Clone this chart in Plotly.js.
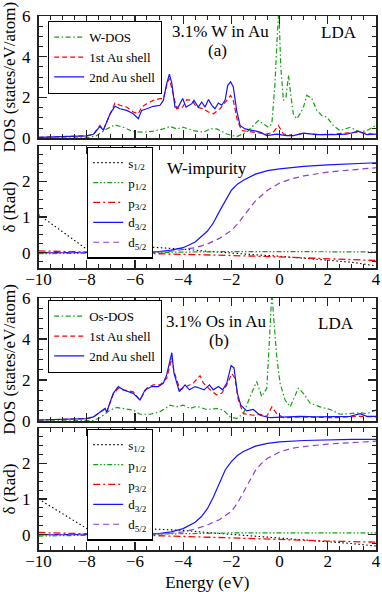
<!DOCTYPE html>
<html><head><meta charset="utf-8">
<script src="https://cdn.plot.ly/plotly-3.0.1.min.js"></script>
<style>html,body{margin:0;padding:0;background:#fff}#chart{width:382px;height:592px}</style>
</head><body><div id="chart"></div>
<script>
// ---------- Panel (a): DOS, 3.1% W in Au ----------
const aWdosE = [-10, -8.0, -7.59, -7.17, -6.83, -6.48, -6.07, -5.65, -5.24, -4.82, -4.54, -4.27, -3.99, -3.58, -3.16, -2.88, -2.61, -2.19, -1.78, -1.36, -1.09, -0.88, -0.67, -0.46, -0.32, -0.19, -0.09, -0.03, 0.05, 0.16, 0.27, 0.37, 0.46, 0.57, 0.71, 0.85, 0.99, 1.13, 1.34, 1.54, 1.75, 1.96, 2.23, 2.51, 2.93, 3.34, 3.62, 4.0];
const aWdos = [0.0, 0.02, 0.13, 0.46, 0.66, 0.54, 0.33, 0.3, 0.35, 0.46, 0.58, 0.46, 0.54, 0.38, 0.3, 0.46, 0.46, 0.21, 0.08, 0.3, 0.63, 0.87, 0.71, 0.54, 0.71, 2.69, 5.17, 6.3, 3.5, 1.86, 2.03, 3.1, 2.19, 1.2, 0.96, 1.2, 1.53, 2.11, 1.95, 1.37, 1.12, 1.04, 0.63, 0.38, 0.54, 0.3, 0.38, 0.63];
const aShell1E = [-10, -9.52, -8.83, -8.42, -8.0, -7.72, -7.45, -7.31, -7.03, -6.83, -6.62, -6.34, -6.07, -5.86, -5.72, -5.51, -5.24, -4.96, -4.82, -4.68, -4.57, -4.47, -4.27, -4.02, -3.85, -3.64, -3.44, -3.16, -2.95, -2.75, -2.47, -2.19, -2.03, -1.92, -1.75, -1.57, -1.09, -0.53, -0.26, -0.05, 0.16, 0.57, 0.99, 1.68, 2.23, 3.27, 4.0];
const aShell1 = [0.05, 0.06, 0.07, 0.09, 0.12, 0.2, 0.63, 0.41, 1.2, 1.73, 1.62, 1.53, 1.29, 1.2, 1.53, 1.7, 1.86, 1.95, 1.95, 2.6, 2.94, 2.44, 1.45, 1.53, 1.9, 1.86, 1.53, 1.45, 1.29, 1.2, 1.45, 1.86, 2.11, 1.86, 0.87, 0.38, 0.3, 0.21, 0.3, 0.63, 0.21, 0.13, 0.25, 0.18, 0.21, 0.3, 0.18];
const aShell2E = [-10, -9.52, -8.83, -8.42, -8.0, -7.72, -7.45, -7.31, -7.03, -6.83, -6.62, -6.34, -6.07, -5.86, -5.72, -5.51, -5.24, -4.96, -4.82, -4.68, -4.57, -4.47, -4.34, -4.2, -4.02, -3.88, -3.64, -3.55, -3.37, -3.23, -3.09, -2.95, -2.81, -2.68, -2.54, -2.4, -2.26, -2.15, -2.03, -1.92, -1.78, -1.64, -1.43, -1.09, -0.81, -0.53, -0.12, 0.3, 0.57, 0.99, 1.54, 2.23, 2.79, 3.27, 3.62, 4.0];
const aShell2 = [0.05, 0.06, 0.07, 0.09, 0.12, 0.2, 0.58, 0.4, 1.2, 1.57, 1.45, 1.37, 1.2, 0.96, 1.37, 1.45, 1.57, 1.62, 1.86, 2.69, 3.15, 2.69, 1.53, 1.53, 1.95, 1.53, 1.7, 1.86, 1.53, 1.78, 1.53, 1.9, 1.62, 1.45, 1.73, 1.62, 1.86, 2.6, 2.77, 2.52, 1.37, 0.63, 0.46, 0.38, 0.3, 0.13, 0.2, 0.13, 0.13, 0.25, 0.18, 0.18, 0.2, 0.35, 0.18, 0.2];

// ---------- Phase shifts, W impurity ----------
const aS12E = [-10, -9, -8, -7.8, -7.5, -7.0, -6.0, -5.0, -4.0, -3.0, -2.0, -1.0, 0, 1, 2, 3, 4];
const aS12 = [1.07, 0.58, 0.1, 0.0, 0.12, 0.18, 0.18, 0.15, 0.1, 0.04, -0.02, -0.06, -0.1, -0.15, -0.2, -0.27, -0.37];
const aPE = [-10, -8, -6, -4, -2, 0, 2, 4];
const aP12 = [-0.03, -0.01, 0.01, 0.03, 0.03, 0.03, 0.03, 0.02];
const aP32 = [0.05, 0.02, 0.0, -0.03, -0.08, -0.12, -0.17, -0.22];
const aD32E = [-10, -8, -6, -5, -4.5, -4, -3.5, -3, -2.75, -2.5, -2.25, -2, -1.75, -1.5, -1.0, -0.5, 0, 1, 2, 3, 4];
const aD32 = [0.0, 0.0, 0.01, 0.03, 0.07, 0.14, 0.3, 0.6, 0.83, 1.15, 1.45, 1.75, 1.92, 2.03, 2.2, 2.3, 2.35, 2.42, 2.46, 2.49, 2.52];
const aD52E = [-10, -6, -5, -4.5, -4, -3.5, -3, -2.5, -2, -1.75, -1.5, -1.25, -1, -0.5, 0, 0.5, 1, 2, 3, 4];
const aD52 = [0.0, 0.0, 0.02, 0.04, 0.08, 0.14, 0.24, 0.4, 0.62, 0.8, 1.02, 1.25, 1.45, 1.75, 1.95, 2.07, 2.15, 2.26, 2.33, 2.38];

// ---------- Panel (b): DOS, 3.1% Os in Au ----------
const bOsdosE = [-10, -7.72, -7.45, -7.03, -6.76, -6.48, -6.07, -5.79, -5.37, -4.96, -4.54, -4.27, -3.99, -3.71, -3.44, -3.02, -2.61, -2.33, -2.05, -1.78, -1.5, -1.22, -0.95, -0.74, -0.53, -0.42, -0.36, -0.32, -0.23, -0.12, 0.02, 0.23, 0.44, 0.64, 0.78, 0.99, 1.27, 1.68, 2.1, 2.51, 2.93, 3.34, 3.62, 4.0];
const bOsdos = [0.0, 0.02, 0.16, 0.53, 0.66, 0.61, 0.53, 0.33, 0.33, 0.45, 0.77, 0.69, 0.77, 0.61, 0.72, 0.56, 0.61, 0.53, 0.2, 0.12, 0.36, 1.19, 1.93, 1.19, 1.6, 3.99, 6.3, 6.3, 4.81, 3.16, 1.85, 1.02, 0.69, 1.27, 1.6, 1.35, 0.86, 0.69, 0.56, 0.33, 0.36, 0.4, 0.36, 0.53];
const bShell1E = [-10, -9.52, -8.83, -8.0, -7.72, -7.45, -7.24, -7.17, -6.9, -6.69, -6.48, -6.07, -5.79, -5.51, -5.24, -4.96, -4.82, -4.68, -4.47, -4.38, -4.13, -3.85, -3.58, -3.3, -3.16, -2.88, -2.61, -2.4, -2.19, -1.98, -1.85, -1.71, -1.5, -1.09, -0.81, -0.53, -0.32, -0.12, 0.16, 0.85, 2.23, 3.34, 4.0];
const bShell1 = [0.05, 0.06, 0.07, 0.12, 0.2, 0.45, 0.6, 0.44, 1.3, 1.6, 1.52, 1.43, 1.02, 1.6, 1.76, 1.76, 1.93, 2.09, 3.08, 2.42, 1.52, 1.68, 1.85, 2.21, 1.85, 1.52, 1.27, 1.35, 1.76, 2.31, 2.09, 1.02, 0.36, 0.28, 0.33, 0.23, 0.69, 0.36, 0.16, 0.2, 0.16, 0.23, 0.2];
const bShell2E = [-10, -9.52, -8.83, -8.0, -7.72, -7.45, -7.24, -7.17, -6.9, -6.69, -6.48, -6.27, -6.07, -5.79, -5.58, -5.3, -5.03, -4.82, -4.68, -4.47, -4.38, -4.16, -3.92, -3.74, -3.51, -3.3, -3.13, -2.91, -2.75, -2.54, -2.36, -2.19, -2.01, -1.89, -1.75, -1.61, -1.36, -1.09, -0.81, -0.39, 0.16, 0.85, 1.54, 2.23, 2.93, 3.34, 3.62, 4.0];
const bShell2 = [0.05, 0.06, 0.07, 0.12, 0.2, 0.45, 0.61, 0.44, 1.35, 1.68, 1.52, 1.43, 1.35, 1.02, 1.52, 1.68, 1.68, 1.85, 2.26, 3.33, 2.34, 1.43, 1.76, 1.52, 1.68, 1.6, 1.52, 1.76, 1.52, 1.68, 1.52, 1.85, 2.7, 2.59, 1.35, 0.77, 0.49, 0.56, 0.28, 0.16, 0.2, 0.23, 0.2, 0.2, 0.23, 0.36, 0.23, 0.23];

// ---------- Phase shifts, Os impurity ----------
const bS12E = [-10, -9, -8, -7.58, -7.3, -7.0, -6.0, -5.0, -4.0, -3.0, -2.0, -1.0, 0, 1, 2, 3, 4];
const bS12 = [1.0, 0.59, 0.17, 0.0, 0.12, 0.18, 0.18, 0.16, 0.12, 0.06, 0.01, -0.04, -0.09, -0.14, -0.19, -0.25, -0.32];
const bPE = [-10, -8, -6, -4, -2, 0, 2, 4];
const bP12 = [-0.04, -0.02, 0.0, 0.04, 0.05, 0.05, 0.05, 0.05];
const bP32 = [0.06, 0.03, -0.01, -0.05, -0.09, -0.14, -0.18, -0.21];
const bD32E = [-10, -8, -6, -5, -4.5, -4, -3.5, -3.25, -3, -2.75, -2.5, -2.25, -2, -1.75, -1.5, -1, -0.5, 0, 1, 2, 3, 4];
const bD32 = [0.0, 0.0, 0.01, 0.03, 0.08, 0.17, 0.35, 0.5, 0.72, 1.05, 1.45, 1.82, 2.05, 2.22, 2.33, 2.48, 2.56, 2.6, 2.64, 2.66, 2.67, 2.67];
const bD52E = [-10, -6, -5, -4.5, -4, -3.5, -3, -2.5, -2, -1.75, -1.5, -1.25, -1, -0.75, -0.5, 0, 0.5, 1, 2, 3, 4];
const bD52 = [0.0, 0.0, 0.02, 0.04, 0.08, 0.16, 0.27, 0.42, 0.65, 0.88, 1.2, 1.52, 1.8, 2.0, 2.14, 2.32, 2.42, 2.47, 2.54, 2.58, 2.62];

const dosNamesA = ['W-DOS', '1st Au shell', '2nd Au shell'];
const dosNamesB = ['Os-DOS', '1st Au shell', '2nd Au shell'];
const phaseNames = ['s<sub>1/2</sub>', 'p<sub>1/2</sub>', 'p<sub>3/2</sub>', 'd<sub>3/2</sub>', 'd<sub>5/2</sub>'];
const xTicks = [-10, -8, -6, -4, -2, 0, 2, 4];

// ---------- styles ----------
const GREEN = 'rgb(20,160,20)', RED = '#ff0000', BLUE = '#1414ff', VIOLET = '#8a3fd1';
const W = 382, H = 592;
const FONT = '"Liberation Serif", "Times New Roman", Times, "DejaVu Serif", serif';
const X0 = 38.5, X1 = 376;
const panels = [[16, 138.3], [146, 268], [298, 421], [428, 550]];
function dom(p) { return [1 - p[1] / H, 1 - p[0] / H]; }

function line(x, y, name, color, dash, width, xa, ya, leg) {
  return {x: x, y: y, name: name, type: 'scatter', mode: 'lines', xaxis: xa, yaxis: ya, legend: leg,
          line: {color: color, dash: dash, width: width || 1.2}, hoverinfo: 'skip'};
}
const DD = '5px,2.5px,1.5px,2.5px';
const data = [
  line(aWdosE, aWdos, dosNamesA[0], GREEN, DD, 1.2, 'x', 'y', 'legend'),
  line(aShell1E, aShell1, dosNamesA[1], RED, '5px,3px', 1.2, 'x', 'y', 'legend'),
  line(aShell2E, aShell2, dosNamesA[2], BLUE, 'solid', 1.2, 'x', 'y', 'legend'),

  line(aS12E, aS12, phaseNames[0], '#000', '1.5px,2.5px', 1.1, 'x2', 'y2', 'legend2'),
  line(aPE, aP12, phaseNames[1], GREEN, '5px,2px,1.5px,2px,1.5px,2px', 1.2, 'x2', 'y2', 'legend2'),
  line(aPE, aP32, phaseNames[2], RED, '7px,3px,2px,3px', 1.3, 'x2', 'y2', 'legend2'),
  line(aD32E, aD32, phaseNames[3], BLUE, 'solid', 1.2, 'x2', 'y2', 'legend2'),
  line(aD52E, aD52, phaseNames[4], VIOLET, '6px,4px', 1.2, 'x2', 'y2', 'legend2'),

  line(bOsdosE, bOsdos, dosNamesB[0], GREEN, DD, 1.2, 'x3', 'y3', 'legend3'),
  line(bShell1E, bShell1, dosNamesB[1], RED, '5px,3px', 1.2, 'x3', 'y3', 'legend3'),
  line(bShell2E, bShell2, dosNamesB[2], BLUE, 'solid', 1.2, 'x3', 'y3', 'legend3'),

  line(bS12E, bS12, phaseNames[0], '#000', '1.5px,2.5px', 1.1, 'x4', 'y4', 'legend4'),
  line(bPE, bP12, phaseNames[1], GREEN, '5px,2px,1.5px,2px,1.5px,2px', 1.2, 'x4', 'y4', 'legend4'),
  line(bPE, bP32, phaseNames[2], RED, '7px,3px,2px,3px', 1.3, 'x4', 'y4', 'legend4'),
  line(bD32E, bD32, phaseNames[3], BLUE, 'solid', 1.2, 'x4', 'y4', 'legend4'),
  line(bD52E, bD52, phaseNames[4], VIOLET, '6px,4px', 1.2, 'x4', 'y4', 'legend4')
];

const AX = '#222';
function xax(anchor, p, labels, title) {
  const a = {domain: [X0 / W, X1 / W], anchor: anchor, range: [-10, 4], tickmode: 'array', tickvals: xTicks,
    ticks: 'inside', ticklen: 8, tickwidth: 1.2, tickcolor: AX,
    minor: {ticks: 'inside', ticklen: 4, tickwidth: 1, tickcolor: AX, dtick: 0.5, tick0: -10},
    showline: true, linecolor: AX, linewidth: 1.5, mirror: 'ticks', showgrid: false, zeroline: false,
    showticklabels: labels, ticklabelstandoff: -5,
    tickfont: {family: FONT, size: 17, color: '#000'}, fixedrange: true};
  if (title) a.title = {text: title, font: {family: FONT, size: 17, color: '#000'}, standoff: 6};
  return a;
}
function yax(anchor, p, range, dtick, mdtick, title) {
  return {domain: dom(p), anchor: anchor, range: range, tick0: 0, dtick: dtick,
    ticks: 'inside', ticklen: 8, tickwidth: 1.2, tickcolor: AX,
    minor: {ticks: 'inside', ticklen: 4, tickwidth: 1, tickcolor: AX, dtick: mdtick},
    showline: true, linecolor: AX, linewidth: 1.5, mirror: 'ticks', showgrid: false, zeroline: false,
    tickfont: {family: FONT, size: 17, color: '#000'}, ticklabelstandoff: 3,
    title: {text: title, font: {family: FONT, size: 17, color: '#000'}, standoff: 4}, fixedrange: true};
}
function legendAt(px, py) {
  return {x: px / W, y: 1 - py / H, xanchor: 'left', yanchor: 'top', bgcolor: '#fff', bordercolor: '#000',
    borderwidth: 1.2, font: {family: FONT, size: 13, color: '#000'}, itemwidth: 30, tracegroupgap: 0};
}
function ann(text, px, py, size) {
  return {text: text, x: px / W, y: 1 - py / H, xref: 'paper', yref: 'paper', xanchor: 'center', yanchor: 'middle',
    showarrow: false, font: {family: FONT, size: size || 17, color: '#000'}};
}

const layout = {
  width: W, height: H, margin: {l: 0, r: 0, t: 0, b: 0}, paper_bgcolor: '#fff', plot_bgcolor: '#fff',
  font: {family: FONT, size: 17, color: '#000'},
  showlegend: true,
  xaxis: xax('y', panels[0], false),
  yaxis: yax('x', panels[0], [0, 6], 2, 0.5, 'DOS (states/eV/atom)'),
  xaxis2: xax('y2', panels[1], true),
  yaxis2: yax('x2', panels[1], [-0.43, 2.99], 1, 0.25, 'δ (Rad)'),
  xaxis3: xax('y3', panels[2], false),
  yaxis3: yax('x3', panels[2], [0, 6], 2, 0.5, 'DOS (states/eV/atom)'),
  xaxis4: xax('y4', panels[3], true, 'Energy (eV)'),
  yaxis4: yax('x4', panels[3], [-0.43, 2.99], 1, 0.25, 'δ (Rad)'),
  legend: legendAt(48, 21),
  legend2: legendAt(87, 146.5),
  legend3: legendAt(48, 300),
  legend4: legendAt(87, 428.5),
  annotations: [
    ann('3.1% W in Au', 220, 31.5), ann('(a)', 217.5, 50.5), ann('LDA', 339, 33),
    ann('W-impurity', 207, 168),
    ann('3.1% Os in Au', 216, 321), ann('(b)', 219, 340), ann('LDA', 336, 323)
  ]
};
Plotly.newPlot('chart', data, layout, {staticPlot: true, displayModeBar: false});
</script></body></html>
